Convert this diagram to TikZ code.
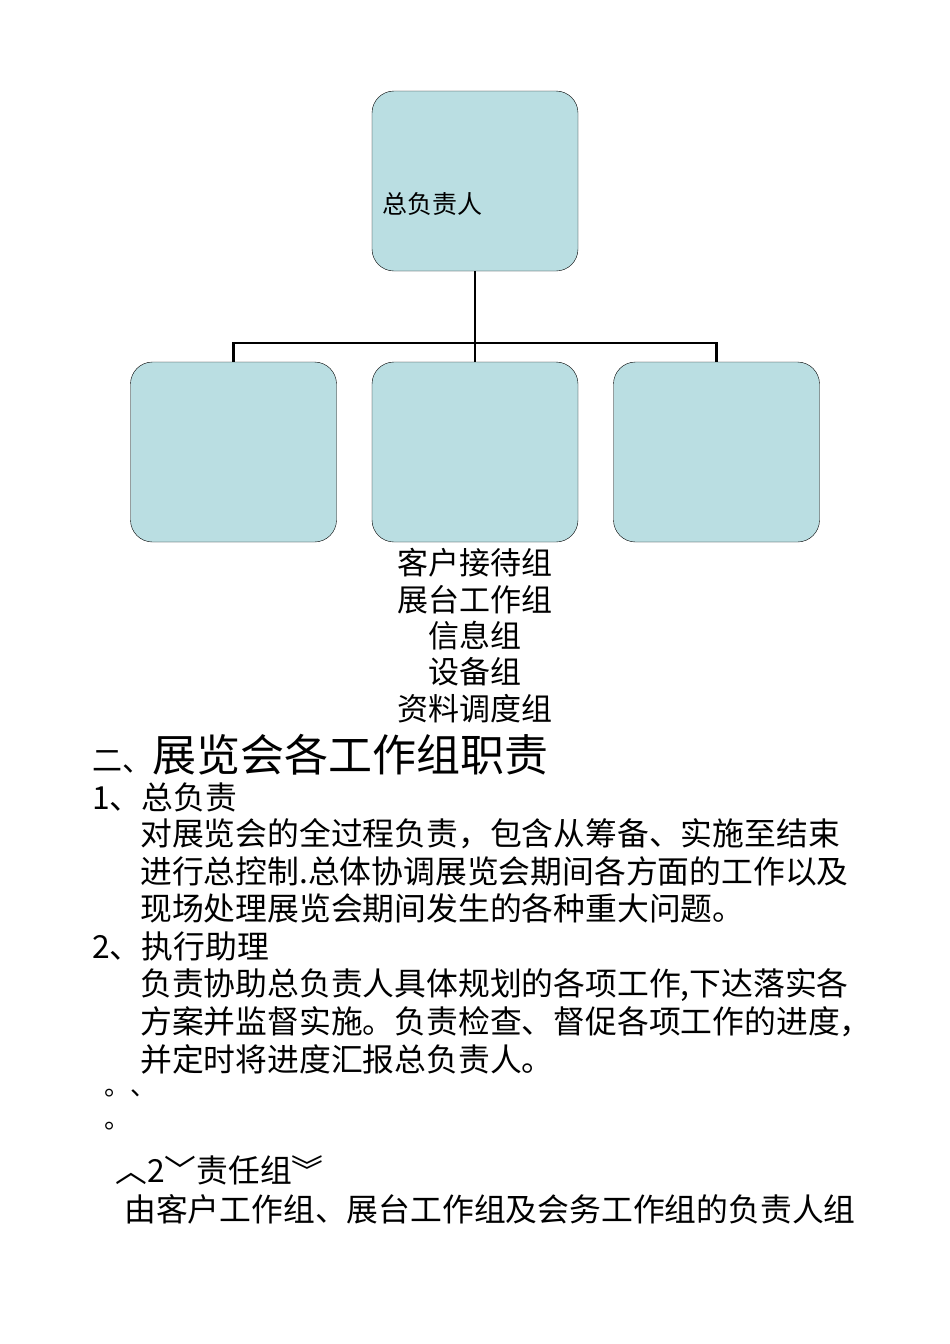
\documentclass[tikz,border=0pt]{standalone}
\usepackage{fontspec}
\newfontfamily\cjk{Noto Sans CJK SC}
\definecolor{boxfill}{RGB}{186,222,226}
\begin{document}
\begin{tikzpicture}[x=1pt,y=-1pt,
  orgbox/.style={draw=black,fill=boxfill,rounded corners=22pt,minimum width=206pt,minimum height=180pt,inner sep=0pt},
  txt/.style={anchor=west,inner sep=0pt,font=\cjk\fontsize{31.8}{34}\selectfont},
  ctxt/.style={inner sep=0pt,font=\cjk\fontsize{31}{34}\selectfont}]
\useasboundingbox (0,0) rectangle (950,1344);
\node[orgbox] (top) at (475,181) {};
\node[orgbox] (b1) at (233.5,452) {};
\node[orgbox] (b2) at (475,452) {};
\node[orgbox] (b3) at (716.5,452) {};
\node[anchor=west,inner sep=0pt,font=\cjk\fontsize{25}{28}\selectfont] (tl) at (382,204) {总负责人};
\coordinate (j) at (475,343);
\draw[line width=2.5pt] (top.south) -- (j);
\draw[line width=2.5pt] (b1.north) |- (j) -| (b3.north);
\draw[line width=2.5pt] (j) -- (b2.north);
\node[ctxt] (c1) at (475,563) {客户接待组};
\node[ctxt] (c2) at (475,600) {展台工作组};
\node[ctxt] (c3) at (475,636) {信息组};
\node[ctxt] (c4) at (475,672) {设备组};
\node[ctxt] (c5) at (475,709) {资料调度组};
\node[txt,font=\cjk\fontsize{44}{48}\selectfont] (h) at (92,755) {{\fontsize{30}{32}\selectfont 二、}展览会各工作组职责};
\node[txt] (l1) at (92,797) {1、总负责};
\node[txt] (l2) at (140,834) {对展览会的全过程负责，包含从筹备、实施至结束};
\node[txt] (l3) at (140,871) {进行总控制.总体协调展览会期间各方面的工作以及};
\node[txt] (l4) at (140,908) {现场处理展览会期间发生的各种重大问题。};
\node[txt] (l5) at (92,946) {2、执行助理};
\node[txt] (l6) at (140,985) {负责协助总负责人具体规划的各项工作,下达落实各};
\node[txt] (l7) at (140,1022) {方案并监督实施。负责检查、督促各项工作的进度，};
\node[txt] (l8) at (140,1059) {并定时将进度汇报总负责人。};
\node[txt,font=\cjk\fontsize{26}{30}\selectfont] (l9) at (104,1093) {。、};
\node[txt,font=\cjk\fontsize{26}{30}\selectfont] (l10) at (104,1126) {。};
\node[txt] (l11) at (115,1170) {︿2﹀责任组︾};
\node[txt] (l12) at (124,1209) {由客户工作组、展台工作组及会务工作组的负责人组};
\end{tikzpicture}
\end{document}
